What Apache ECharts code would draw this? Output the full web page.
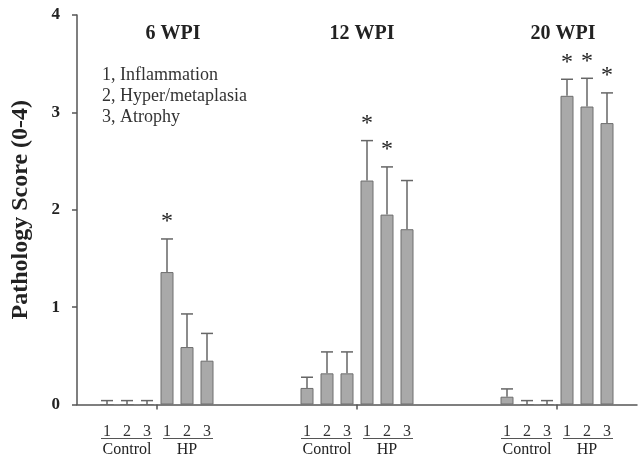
<!DOCTYPE html>
<html>
<head>
<meta charset="utf-8">
<script src="https://cdn.jsdelivr.net/npm/echarts@6/dist/echarts.min.js"></script>
<style>html,body{margin:0;padding:0;background:#fff}#c{width:638px;height:456px}</style>
</head>
<body>
<div id="c"></div>
<script>
// ---- data ----
const timepoints = ['6 WPI', '12 WPI', '20 WPI'];
const groupNames = ['Control', 'HP'];
const scoreLabels = ['1', '2', '3'];
const legendLines = ['1, Inflammation', '2, Hyper/metaplasia', '3, Atrophy'];
const yTicks = [0, 1, 2, 3, 4];
// means per timepoint: [score1, score2, score3]
const controlMean = [[0, 0, 0], [0.17, 0.32, 0.32], [0.08, 0, 0]];
const controlUpper = [[0.04, 0.04, 0.04], [0.28, 0.54, 0.54], [0.16, 0.04, 0.04]];
const hpMean = [[1.36, 0.59, 0.45], [2.30, 1.95, 1.80], [3.17, 3.06, 2.89]];
const hpUpper = [[1.70, 0.93, 0.73], [2.71, 2.44, 2.30], [3.34, 3.35, 3.20]];
const hpSignificant = [[1, 0, 0], [1, 1, 0], [1, 1, 1]];

// ---- layout (slots on a category axis) ----
const SLOTS = 28, GROUP_STEP = 10, FIRST = 1;
const xCategories = [];
for (let i = 0; i < SLOTS; i++) {
  const k = i - FIRST - GROUP_STEP * Math.floor((i - FIRST) / GROUP_STEP);
  xCategories.push(i >= FIRST && k >= 0 && k < 6 ? scoreLabels[k % 3] : '');
}
const barData = new Array(SLOTS).fill(null);
const errData = [];
const groupData = [];
timepoints.forEach((t, g) => {
  const start = FIRST + g * GROUP_STEP;
  groupData.push([start, 0, g]);
  for (let s = 0; s < 3; s++) {
    barData[start + s] = controlMean[g][s];
    errData.push([start + s, controlMean[g][s], controlUpper[g][s], 0]);
    barData[start + 3 + s] = hpMean[g][s];
    errData.push([start + 3 + s, hpMean[g][s], hpUpper[g][s], hpSignificant[g][s]]);
  }
});

const SERIF = '"Liberation Serif", "DejaVu Serif", serif';
const INK = '#222';
const AXIS = '#555';
const titleShift = [16, 5, 6];

function renderErr(params, api) {
  const x = api.value(0), mean = api.value(1), up = api.value(2), star = api.value(3);
  const p0 = api.coord([x, mean]);
  const p1 = api.coord([x, up]);
  const half = 6;
  const st = { stroke: '#666', lineWidth: 1.5 };
  const ch = [
    { type: 'line', shape: { x1: p0[0], y1: p0[1], x2: p1[0], y2: p1[1] }, style: st },
    { type: 'line', shape: { x1: p1[0] - half, y1: p1[1], x2: p1[0] + half, y2: p1[1] }, style: st }
  ];
  if (star) {
    ch.push({ type: 'text', style: { text: '*', x: p1[0], y: p1[1] - 17, align: 'center', verticalAlign: 'middle', font: '24px ' + SERIF, fill: INK } });
  }
  return { type: 'group', children: ch };
}

function renderGroup(params, api) {
  const start = api.value(0), g = api.value(2);
  const w = api.size([1, 0])[0];
  const axisY = api.coord([start, 0])[1];
  const cx = i => api.coord([start + i, 0])[0];
  const boundary = cx(3) - w / 2;
  const lineSt = { stroke: '#555', lineWidth: 1 };
  const uy = axisY + 34;
  return {
    type: 'group',
    children: [
      { type: 'text', style: { text: timepoints[g], x: boundary + titleShift[g], y: 34, align: 'center', verticalAlign: 'middle', font: 'bold 20px ' + SERIF, fill: INK } },
      { type: 'line', shape: { x1: boundary, y1: axisY, x2: boundary, y2: axisY + 5 }, style: { stroke: AXIS, lineWidth: 1.5 } },
      { type: 'line', shape: { x1: cx(0) - 6, y1: uy, x2: cx(2) + 5, y2: uy }, style: lineSt },
      { type: 'line', shape: { x1: cx(3) - 4, y1: uy, x2: cx(5) + 6, y2: uy }, style: lineSt },
      { type: 'text', style: { text: groupNames[0], x: cx(1), y: axisY + 45, align: 'center', verticalAlign: 'middle', font: '16px ' + SERIF, fill: INK } },
      { type: 'text', style: { text: groupNames[1], x: cx(4), y: axisY + 45, align: 'center', verticalAlign: 'middle', font: '16px ' + SERIF, fill: INK } }
    ]
  };
}

const chart = echarts.init(document.getElementById('c'), null, { renderer: 'canvas' });
chart.setOption({
  animation: false,
  backgroundColor: '#fff',
  title: {
    text: legendLines.join('\n'),
    left: 102, top: 65, padding: 0,
    textStyle: { fontFamily: SERIF, fontSize: 18, fontWeight: 'normal', color: '#333', lineHeight: 21 }
  },
  grid: { left: 77, right: 1, top: 15, bottom: 51.5, containLabel: false },
  xAxis: {
    type: 'category',
    data: xCategories,
    axisLine: { lineStyle: { color: AXIS, width: 1.5 } },
    axisTick: { show: false },
    axisLabel: { interval: 0, margin: 19, fontFamily: SERIF, fontSize: 16, color: '#333' },
    splitLine: { show: false }
  },
  yAxis: {
    type: 'value',
    min: yTicks[0], max: yTicks[yTicks.length - 1], interval: 1,
    name: 'Pathology Score (0-4)',
    nameLocation: 'middle', nameGap: 44, nameRotate: 90,
    nameTextStyle: { fontFamily: SERIF, fontSize: 24, fontWeight: 'bold', color: INK },
    axisLine: { show: true, lineStyle: { color: AXIS, width: 1.5 } },
    axisTick: { show: true, length: 5, lineStyle: { color: AXIS, width: 1.5 } },
    axisLabel: { margin: 17, fontFamily: SERIF, fontSize: 17, fontWeight: 'bold', color: INK },
    splitLine: { show: false }
  },
  series: [
    {
      type: 'bar', data: barData, barWidth: 13,
      itemStyle: { color: '#a9a9a9', borderColor: '#6e6e6e', borderWidth: 1 }
    },
    { type: 'custom', data: errData, renderItem: renderErr, encode: { x: 0, y: 1 }, clip: false, z: 3 },
    { type: 'custom', data: groupData, renderItem: renderGroup, encode: { x: 0, y: 1 }, clip: false, z: 3 }
  ]
});
</script>
</body>
</html>
